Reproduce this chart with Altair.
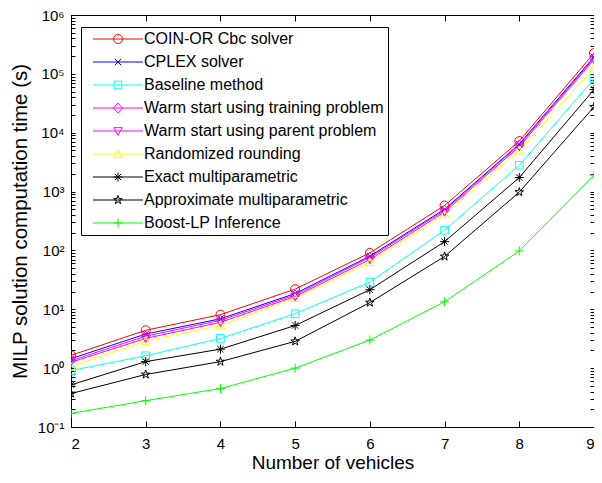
import altair as alt
import pandas as pd

# ---- data ----
vehicles = [2, 3, 4, 5, 6, 7, 8, 9]
series_names = [
    "COIN-OR Cbc solver",
    "CPLEX solver",
    "Baseline method",
    "Warm start using training problem",
    "Warm start using parent problem",
    "Randomized rounding",
    "Exact multiparametric",
    "Approximate multiparametric",
    "Boost-LP Inference",
]
coin_or = [1.65, 4.4, 8.1, 22, 91, 580, 7200, 225000]
cplex = [1.45, 3.8, 6.9, 18.5, 80, 500, 6400, 195000]
baseline = [0.91, 1.62, 3.2, 8.4, 29, 221, 2800, 82000]
warm_training = [1.34, 3.5, 6.5, 17.5, 76, 480, 6200, 185000]
warm_parent = [1.26, 3.2, 6.0, 16.5, 70, 450, 5800, 175000]
rand_round = [1.06, 2.9, 5.3, 15.5, 63, 410, 5000, 126000]
exact_mp = [0.52, 1.29, 2.1, 5.3, 21.5, 141, 1730, 54000]
approx_mp = [0.37, 0.78, 1.29, 2.85, 13, 79, 980, 27500]
boost_lp = [0.17, 0.28, 0.45, 1.0, 3.0, 13.4, 98, 1900]

series_values = [coin_or, cplex, baseline, warm_training, warm_parent,
                 rand_round, exact_mp, approx_mp, boost_lp]
colors = ["#ff0000", "#0000ff", "#00ffff", "#ff00ff", "#ff00ff",
          "#ffff00", "#000000", "#000000", "#00ff00"]

y_major = [0.1, 1, 10, 100, 1e3, 1e4, 1e5, 1e6]
y_labels = ["10\u207b\u00b9", "10\u2070", "10\u00b9", "10\u00b2", "10\u00b3",
            "10\u2074", "10\u2075", "10\u2076"]
y_minor = [m * 10.0 ** k for k in range(-1, 6) for m in range(1, 10)] + [1e6]

# marker paths (unit box)
marker_paths = [
    "M1,0A1,1,0,1,1,-1,0A1,1,0,1,1,1,0Z",                      # circle
    "M-0.7,-0.7L0.7,0.7M-0.7,0.7L0.7,-0.7",                    # x
    "M-0.85,-0.85L0.85,-0.85L0.85,0.85L-0.85,0.85Z",           # square
    "M0,-1.1L1,0L0,1.1L-1,0Z",                                 # diamond
    "M-0.95,-0.75L0.95,-0.75L0,0.95Z",                         # triangle down
    "M-0.95,0.75L0.95,0.75L0,-0.95Z",                          # triangle up
    "M-1,0L1,0M0,-1L0,1M-0.7,-0.7L0.7,0.7M-0.7,0.7L0.7,-0.7",  # asterisk
    "M0,-1L0.225,-0.309L0.951,-0.309L0.363,0.118L0.588,0.809L0,0.382"
    "L-0.588,0.809L-0.363,0.118L-0.951,-0.309L-0.225,-0.309Z",  # pentagram
    "M-1,0L1,0M0,-1L0,1",                                      # plus
]

# marker-legend keys (labels are hidden; kept distinct so legends don't merge)
marker_keys = [n + "\u200b" for n in series_names]

rows = []
for name, key, vals in zip(series_names, marker_keys, series_values):
    for xv, yv in zip(vehicles, vals):
        rows.append({"vehicles": xv, "time": yv, "series": name, "mkey": key})
df = pd.DataFrame(rows)

W, H = 523, 412
FONT = "Liberation Sans"

label_expr = ""
for v, lab in zip(y_major[:-1], y_labels[:-1]):
    label_expr += f"datum.value < {v * 3} ? '{lab}' : "
label_expr += f"'{y_labels[-1]}'"

xscale = alt.Scale(domain=[2, 9], nice=False, zero=False)
yscale = alt.Scale(type="log", domain=[0.1, 1e6], nice=False)
stroke_scale = alt.Scale(domain=series_names, range=colors)
color_scale = alt.Scale(domain=marker_keys, range=colors)
shape_scale = alt.Scale(domain=marker_keys, range=marker_paths)

common_legend = dict(
    title=None, padding=4, orient="none", legendX=10, legendY=12,
    cornerRadius=0, labelFont=FONT, labelFontSize=16, labelLimit=400,
    symbolSize=81, symbolStrokeWidth=1, symbolOffset=25, labelOffset=18,
    rowPadding=7,
)
line_legend = alt.Legend(
    symbolType="M-5.56,0L5.56,0", strokeColor="black", fillColor="white",
    labelColor="black", zindex=1, **common_legend)
marker_legend = alt.Legend(labelOpacity=0, zindex=2, **common_legend)

base = alt.Chart(df)

lines = base.mark_line(strokeWidth=1, clip=True).encode(
    x=alt.X("vehicles:Q", scale=xscale,
            axis=alt.Axis(values=vehicles, title="Number of vehicles",
                          format="d", ticks=False, labelPadding=9,
                          titlePadding=2, grid=False)),
    y=alt.Y("time:Q", scale=yscale,
            axis=alt.Axis(values=y_major, labelExpr=label_expr,
                          title="MILP solution computation time (s)",
                          titleFontSize=20.5,
                          ticks=False, labelPadding=7, titlePadding=7,
                          grid=False)),
    stroke=alt.Stroke("series:N", scale=stroke_scale, legend=line_legend),
)

points = base.mark_point(filled=False, size=81, strokeWidth=1, opacity=1,
                         clip=True).encode(
    x=alt.X("vehicles:Q", scale=xscale,
            axis=alt.Axis(values=vehicles, orient="top", offset=-H,
                          labels=False, title=None, domain=False,
                          tickSize=6, grid=False)),
    y=alt.Y("time:Q", scale=yscale,
            axis=alt.Axis(values=y_minor, orient="right", offset=-W,
                          labels=False, title=None, domain=False,
                          tickSize=4, grid=False)),
    color=alt.Color("mkey:N", scale=color_scale, legend=marker_legend),
    shape=alt.Shape("mkey:N", scale=shape_scale, legend=marker_legend),
)

frame_ticks = base.mark_point(opacity=0).encode(
    x=alt.X("vehicles:Q", scale=xscale,
            axis=alt.Axis(values=vehicles, orient="bottom", offset=-H,
                          labels=False, title=None, domain=False,
                          tickSize=6, grid=False)),
    y=alt.Y("time:Q", scale=yscale,
            axis=alt.Axis(values=y_minor, orient="left", offset=-W,
                          labels=False, title=None, domain=False,
                          tickSize=4, grid=False)),
)

chart = alt.layer(lines, points, frame_ticks).resolve_axis(
    x="independent", y="independent"
).properties(
    width=W, height=H,
    autosize=alt.AutoSizeParams(type="none"),
    padding={"left": 63, "top": 7, "right": 0, "bottom": 48},
).configure_view(
    stroke="black", strokeWidth=1
).configure_axis(
    labelFont=FONT, titleFont=FONT, labelFontSize=15, titleFontSize=19,
    labelColor="black", titleColor="black", domainColor="black",
    tickColor="black", titleFontWeight="normal", domainWidth=1, tickWidth=1,
)

chart.save("out.html", embed_options={"renderer": "svg", "actions": False})
